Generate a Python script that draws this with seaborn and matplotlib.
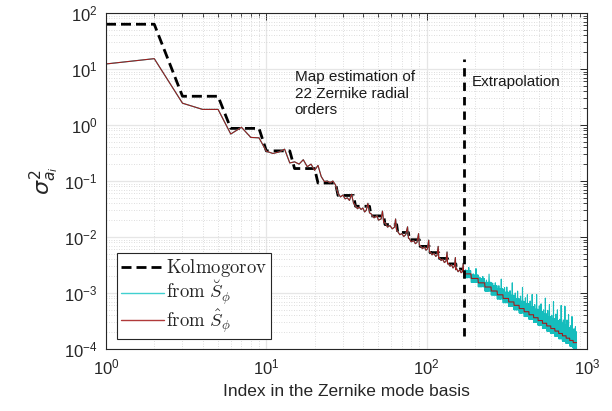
import numpy as np
import pandas as pd
import matplotlib
matplotlib.use('Agg')
import matplotlib.pyplot as plt
import seaborn as sns
from matplotlib.font_manager import FontProperties
from matplotlib.lines import Line2D
from matplotlib.ticker import LogLocator, NullFormatter

# ---- data ----
# Kolmogorov variance level for each Zernike radial order 1..17 (order n has n+1 modes)
kolmo_levels = [63, 3.26, 0.87, 0.345, 0.167, 0.092, 0.0552, 0.0354, 0.0238,
                0.01666, 0.01204, 0.00894, 0.00679, 0.00526, 0.00414, 0.00331, 0.00268]
kolmo_orders = list(range(1, 18))

# estimated variances (map estimation region, modes 1..170)
red_x = [1, 2, 3, 4, 5, 6, 7, 8, 9, 10, 11, 12, 13, 14, 15, 16, 17, 18, 19, 20,
         21, 22, 23, 24, 25, 26, 27,
         28, 29, 30, 31, 32, 33, 34, 35,
         36, 37, 38, 39, 40, 41, 42, 43, 44,
         45, 47, 49, 50, 52, 53, 54,
         55, 57, 59, 61, 63, 64, 65,
         66, 68, 70, 72, 74, 76, 77,
         78, 80, 83, 85, 87, 89, 90,
         91, 94, 97, 99, 101, 103, 104,
         105, 108, 111, 114, 116, 118, 119,
         120, 123, 126, 129, 132, 134, 135,
         136, 140, 143, 146, 149, 151, 152,
         153, 157, 161, 164, 167, 169, 170]
red_y = [12.3, 15.3, 2.45, 1.9, 1.9, 0.69, 0.91, 0.6, 0.59, 0.34, 0.31, 0.33, 0.37, 0.21,
         0.22, 0.2, 0.24, 0.18, 0.2, 0.155,
         0.19, 0.12, 0.098, 0.1, 0.093, 0.1, 0.085,
         0.060, 0.052, 0.056, 0.048, 0.050, 0.045, 0.058, 0.040,
         0.036, 0.032, 0.034, 0.031, 0.033, 0.028, 0.030, 0.040, 0.027,
         0.026, 0.022, 0.024, 0.020, 0.021, 0.029, 0.018,
         0.018, 0.015, 0.016, 0.014, 0.015, 0.021, 0.013,
         0.0125, 0.011, 0.0115, 0.0102, 0.011, 0.0152, 0.0095,
         0.0093, 0.0082, 0.0086, 0.0076, 0.008, 0.0115, 0.0071,
         0.0071, 0.0062, 0.0066, 0.0058, 0.0061, 0.0088, 0.0054,
         0.0055, 0.0048, 0.0051, 0.0045, 0.0047, 0.0068, 0.0042,
         0.0043, 0.0038, 0.0040, 0.0035, 0.0037, 0.0054, 0.0033,
         0.0034, 0.0030, 0.0032, 0.0028, 0.0030, 0.0043, 0.0026,
         0.0028, 0.0024, 0.0026, 0.0023, 0.0024, 0.0034, 0.0022]

# extrapolation region, radial orders 18..40
extrap_orders = list(range(18, 41))
extrap_levels = [2.196e-3, 1.817e-3, 1.518e-3, 1.279e-3, 1.086e-3, 9.29e-4, 7.99e-4,
                 6.92e-4, 6.02e-4, 5.27e-4, 4.63e-4, 4.09e-4, 3.62e-4, 3.22e-4,
                 2.88e-4, 2.58e-4, 2.32e-4, 2.09e-4, 1.89e-4, 1.72e-4, 1.56e-4,
                 1.42e-4, 1.30e-4]
cyan_low = [1.87e-3, 1.54e-3, 1.29e-3, 1.08e-3, 9.2e-4, 7.8e-4, 6.7e-4, 5.8e-4, 5.0e-4,
            4.4e-4, 3.8e-4, 3.4e-4, 3.0e-4, 2.65e-4, 2.35e-4, 2.1e-4, 1.9e-4, 1.7e-4,
            1.53e-4, 1.39e-4, 1.26e-4, 1.14e-4, 1.04e-4]
cyan_high = [2.5e-3, 2.1e-3, 1.8e-3, 1.55e-3, 1.35e-3, 1.18e-3, 1.03e-3, 9.1e-4, 8.0e-4,
             7.1e-4, 6.4e-4, 5.7e-4, 5.1e-4, 4.6e-4, 4.2e-4, 3.8e-4, 3.45e-4, 3.15e-4,
             2.9e-4, 2.65e-4, 2.4e-4, 2.2e-4, 2.0e-4]
cyan_spike = [2.85e-3, 2.73e-3, 1.97e-3, 2.17e-3, 1.52e-3, 1.77e-3, 1.28e-3, 1.52e-3,
              1.08e-3, 1.26e-3, 9.3e-4, 9.4e-4, 9.4e-4, 6.4e-4, 8.1e-4, 6.2e-4, 7.0e-4,
              5.0e-4, 6.0e-4, 5.8e-4, 4.1e-4, 3.8e-4, 2.5e-4]
cyan_spike2 = [2.6e-3, 2.2e-3, 1.9e-3, 1.7e-3, 1.5e-3, 1.35e-3, 1.25e-3, 1.1e-3, 1.0e-3,
               8.8e-4, 8.2e-4, 7.2e-4, 6.2e-4, 5.9e-4, 5.0e-4, 4.9e-4, 4.0e-4, 4.2e-4,
               3.4e-4, 3.3e-4, 3.3e-4, 2.6e-4, 2.3e-4]

boundary_x = [171, 171]
boundary_y = [1.7e-4, 15]

# ---- build tables ----
kolmo_counts = [n + 1 for n in kolmo_orders]
kolmo_df = pd.DataFrame({"x": np.arange(1, 1 + sum(kolmo_counts)),
                         "y": np.repeat(kolmo_levels, kolmo_counts)})

ext_counts = [n + 1 for n in extrap_orders]
ext_x = np.arange(171, 171 + sum(ext_counts))
red_df = pd.DataFrame({"x": np.concatenate([red_x, ext_x]),
                       "y": np.concatenate([red_y, np.repeat(extrap_levels, ext_counts)])})

cyan_ext = []
for c, lo, hi, sp, sp2 in zip(ext_counts, cyan_low, cyan_high, cyan_spike, cyan_spike2):
    vals = [lo if i % 2 == 0 else hi for i in range(c)]
    vals[(2 * c) // 3] = sp
    vals[c // 4] = sp2
    cyan_ext.extend(vals)
cyan_df = pd.DataFrame({"x": np.concatenate([red_x, ext_x]),
                        "y": np.concatenate([red_y, cyan_ext])})
bound_df = pd.DataFrame({"x": boundary_x, "y": boundary_y})

# ---- style ----
sns.set_theme(style="white")
plt.rcParams['font.family'] = ['Liberation Sans', 'DejaVu Sans']
plt.rcParams['axes.edgecolor'] = '#262626'
plt.rcParams['xtick.color'] = '#262626'
plt.rcParams['ytick.color'] = '#262626'

fig = plt.figure(figsize=(6.12, 4.11), dpi=100)
ax = fig.add_axes([106 / 612, 1 - 349 / 411, 481 / 612, 336 / 411])

dash = (0, (3.6, 1.8))
sns.lineplot(data=kolmo_df, x="x", y="y", ax=ax, color="black", lw=2.0,
             linestyle=dash, estimator=None, sort=False, legend=False)
sns.lineplot(data=cyan_df, x="x", y="y", ax=ax, color="#15bdbd", lw=0.8,
             estimator=None, sort=False, legend=False)
sns.lineplot(data=red_df, x="x", y="y", ax=ax, color="#a01c1c", lw=0.8,
             estimator=None, sort=False, legend=False)
sns.lineplot(data=bound_df, x="x", y="y", ax=ax, color="black", lw=2.0,
             linestyle=(0, (3.0, 2.2)), estimator=None, sort=False, legend=False)

ax.set_xscale('log')
ax.set_yscale('log')
ax.set_xlim(1, 1000)
ax.set_ylim(1e-4, 1e2)

ax.xaxis.set_major_locator(LogLocator(base=10, numticks=10))
ax.yaxis.set_major_locator(LogLocator(base=10, numticks=10))
ax.xaxis.set_minor_locator(LogLocator(base=10, subs=np.arange(2, 10), numticks=40))
ax.yaxis.set_minor_locator(LogLocator(base=10, subs=np.arange(2, 10), numticks=40))
ax.xaxis.set_minor_formatter(NullFormatter())
ax.yaxis.set_minor_formatter(NullFormatter())

ax.grid(True, which='major', color='#e6e6e6', lw=0.9, ls='-')
ax.grid(True, which='minor', color='#d2d2d2', lw=0.6, ls=(0, (1, 2)))
ax.set_axisbelow(True)

ax.tick_params(which='both', direction='in', top=True, right=True, labelsize=12,
               labelcolor='#262626', pad=6)
ax.tick_params(which='major', length=5, width=0.7)
ax.tick_params(which='minor', length=3, width=0.6)
for s in ax.spines.values():
    s.set_linewidth(0.8)
    s.set_color('#262626')

ax.set_xlabel("Index in the Zernike mode basis", fontsize=12.5, color='#262626', labelpad=5)
ax.set_ylabel(r"$\sigma^2_{a_i}$", fontsize=16, color='#262626', labelpad=2,
              math_fontfamily='dejavusans')

ax.text(15, 9.6, "Map estimation of\n22 Zernike radial\norders", fontsize=11,
        va='top', ha='left', color='#1a1a1a', linespacing=1.25)
ax.text(191, 5.9, "Extrapolation", fontsize=11, va='center', ha='left', color='#1a1a1a')

handles = [Line2D([], [], color='black', lw=2.0, linestyle=dash),
           Line2D([], [], color='#40d0d0', lw=1.0),
           Line2D([], [], color='#b03a3a', lw=1.0)]
labels = [r"$\mathrm{Kolmogorov}$", r"$\mathrm{from}\ \breve{S}_{\phi}$",
          r"$\mathrm{from}\ \hat{S}_{\phi}$"]
leg = ax.legend(handles, labels, loc='lower left', bbox_to_anchor=(0.023, 0.03),
                borderaxespad=0, prop=FontProperties(size=13.5, math_fontfamily='cm'),
                frameon=True, fancybox=False, edgecolor='#262626', framealpha=1,
                handlelength=2.3, handletextpad=0.1, labelspacing=0.0,
                borderpad=0.2)
leg.get_frame().set_linewidth(0.8)

fig.savefig("out.png", dpi=100)
